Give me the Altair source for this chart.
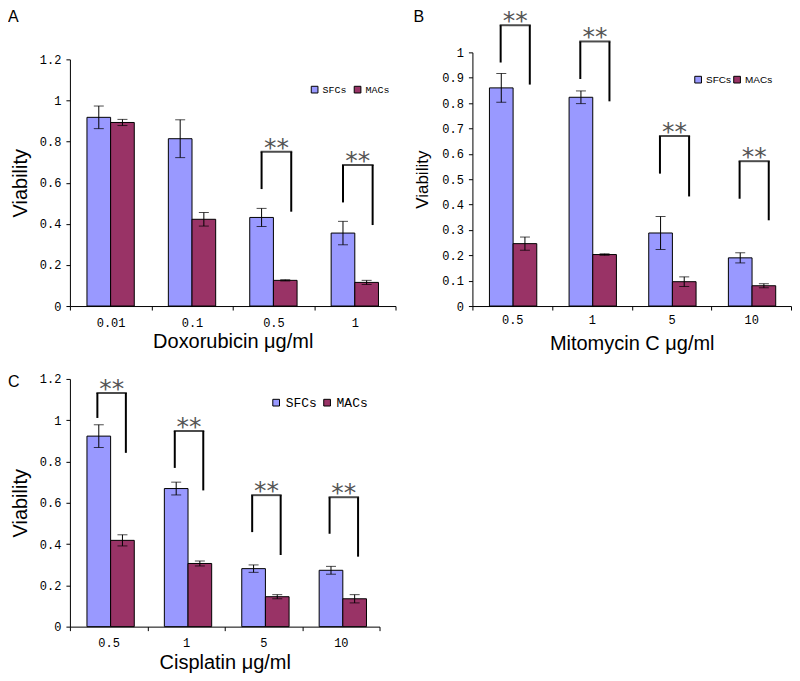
import altair as alt
import pandas as pd

cells = ["SFCs", "MACs"]
cell_colors = ["#9999FF", "#993366"]

# ---- Panel A: Doxorubicin ----
a_conc = ["0.01", "0.1", "0.5", "1"]
a_sfc = [0.918, 0.814, 0.431, 0.355]
a_sfc_sd = [0.055, 0.092, 0.044, 0.057]
a_mac = [0.893, 0.422, 0.125, 0.115]
a_mac_sd = [0.015, 0.033, 0.003, 0.010]
a_sig_conc = ["0.5", "1"]
a_sig_top = [0.751, 0.686]
a_sig_left = [0.569, 0.504]
a_sig_right = [0.459, 0.394]
a_yticks = [0, 0.2, 0.4, 0.6, 0.8, 1, 1.2]

# ---- Panel B: Mitomycin C ----
b_conc = ["0.5", "1", "5", "10"]
b_sfc = [0.860, 0.823, 0.288, 0.190]
b_sfc_sd = [0.057, 0.025, 0.065, 0.020]
b_mac = [0.246, 0.203, 0.096, 0.080]
b_mac_sd = [0.026, 0.003, 0.019, 0.008]
b_sig_conc = ["0.5", "1", "5", "10"]
b_sig_top = [1.107, 1.043, 0.670, 0.571]
b_sig_left = [0.960, 0.895, 0.522, 0.423]
b_sig_right = [0.873, 0.807, 0.432, 0.338]
b_yticks = [0, 0.1, 0.2, 0.3, 0.4, 0.5, 0.6, 0.7, 0.8, 0.9, 1]

# ---- Panel C: Cisplatin ----
c_conc = ["0.5", "1", "5", "10"]
c_sfc = [0.923, 0.669, 0.281, 0.273]
c_sfc_sd = [0.055, 0.031, 0.018, 0.019]
c_mac = [0.418, 0.306, 0.145, 0.135]
c_mac_sd = [0.027, 0.012, 0.010, 0.020]
c_sig_conc = ["0.5", "1", "5", "10"]
c_sig_top = [1.132, 0.948, 0.637, 0.627]
c_sig_left = [1.011, 0.769, 0.458, 0.450]
c_sig_right = [0.842, 0.660, 0.347, 0.339]
c_yticks = [0, 0.2, 0.4, 0.6, 0.8, 1, 1.2]

PAD_OUTER = 0.72


def panel(letter, conc, sfc, sfc_sd, mac, mac_sd, sig_conc, sig_top, sig_left,
          sig_right, yticks, ymax, xtitle, width, height, top_off, ytitle_size,
          ytitle_pad, ytitle_base, legend_x, legend_y, legend_font, legend_size,
          legend_gap, letter_pos, xlabel_pad, xtitle_pad):
    rows = []
    for i, c in enumerate(conc):
        rows.append({"conc": c, "cell": "SFCs", "v": sfc[i], "sd": sfc_sd[i]})
        rows.append({"conc": c, "cell": "MACs", "v": mac[i], "sd": mac_sd[i]})
    df = pd.DataFrame(rows)
    sig = pd.DataFrame({"conc": sig_conc, "top": sig_top, "lb": sig_left, "rb": sig_right})

    band = width / len(conc)
    step = band / (2 + 2 * PAD_OUTER)
    leg_r = 6

    x = alt.X("conc:N", scale=alt.Scale(domain=conc, paddingInner=0, paddingOuter=0),
              axis=alt.Axis(title=xtitle, labelAngle=0, tickBand="extent", tickSize=4,
                            labelFont="Liberation Mono", labelFontSize=12,
                            labelPadding=xlabel_pad,
                            titleFont="Liberation Sans", titleFontSize=20,
                            titleFontWeight="normal", titlePadding=xtitle_pad))
    xo = alt.XOffset("cell:N", scale=alt.Scale(domain=cells, paddingInner=0,
                                               paddingOuter=PAD_OUTER))
    yscale = alt.Scale(domain=[0, ymax], nice=False, zero=True, range=[height, top_off])
    y_axis = alt.Axis(title="Viability", values=yticks, tickCount=len(yticks) + 1,
                      format="~g", tickSize=4,
                      labelFont="Liberation Mono", labelFontSize=12, labelPadding=5,
                      labelOverlap=False,
                      titleFont="Liberation Sans", titleFontSize=ytitle_size,
                      titleFontWeight="normal", titlePadding=ytitle_pad,
                      titleBaseline=ytitle_base, grid=False)

    bars = alt.Chart(df).mark_bar(stroke="black", strokeWidth=1).encode(
        x=x, xOffset=xo,
        y=alt.Y("v:Q", scale=yscale, axis=y_axis),
        color=alt.Color("cell:N", scale=alt.Scale(domain=cells, range=cell_colors),
                        legend=alt.Legend(title=None, orient="none", legendX=legend_x,
                                          legendY=legend_y, direction="horizontal",
                                          symbolType="square", symbolSize=45,
                                          symbolStrokeColor="black", symbolStrokeWidth=1,
                                          labelFont=legend_font, labelFontSize=legend_size,
                                          labelOffset=3, columnPadding=legend_gap,
                                          padding=0)),
    )
    err_base = alt.Chart(df).transform_calculate(
        lo="datum.v - datum.sd", hi="datum.v + datum.sd")
    err = err_base.mark_rule(color="black", strokeWidth=1).encode(
        x=x, xOffset=xo, y=alt.Y("lo:Q", scale=yscale), y2="hi:Q")
    caps = err_base.transform_fold(["lo", "hi"], as_=["end", "val"]).mark_tick(
        orient="horizontal", size=10, thickness=1, color="black").encode(
        x=x, xOffset=xo, y=alt.Y("val:Q", scale=yscale))

    sbase = alt.Chart(sig)
    left = sbase.mark_rule(color="black", strokeWidth=2, xOffset=-step / 2).encode(
        x=x, y=alt.Y("lb:Q", scale=yscale), y2="top:Q")
    right = sbase.mark_rule(color="black", strokeWidth=2, xOffset=step / 2 + leg_r).encode(
        x=x, y=alt.Y("rb:Q", scale=yscale), y2="top:Q")
    horiz = sbase.mark_tick(orient="horizontal", color="black", thickness=2,
                            size=step + leg_r + 2, xOffset=leg_r / 2).encode(
        x=x, y=alt.Y("top:Q", scale=yscale))
    stars = sbase.mark_text(text="**", font="DejaVu Sans", fontSize=25, color="#555555",
                            baseline="alphabetic", dy=4, dx=leg_r / 2).encode(
        x=x, y=alt.Y("top:Q", scale=yscale))

    lab = alt.Chart(pd.DataFrame({"letter": [letter]})).mark_text(
        font="Liberation Sans", fontSize=16, align="left", baseline="middle",
        color="black").encode(text="letter:N", x=alt.value(letter_pos[0]),
                              y=alt.value(letter_pos[1]))

    return alt.layer(bars, err, caps, left, right, horiz, stars, lab).properties(
        width=width, height=height)


A = panel("A", a_conc, a_sfc, a_sfc_sd, a_mac, a_mac_sd, a_sig_conc, a_sig_top,
          a_sig_left, a_sig_right, a_yticks, 1.2, "Doxorubicin μg/ml", 326, 254, 7, 20,
          13, "alphabetic", 240, 32, "Liberation Mono", 10, 4, (-62, -35), 7, 4)
B = panel("B", b_conc, b_sfc, b_sfc_sd, b_mac, b_mac_sd, b_sig_conc, b_sig_top,
          b_sig_left, b_sig_right, b_yticks, 1.0, "Mitomycin C μg/ml", 319, 254, 0, 17,
          10, "bottom", 221, 22, "Liberation Sans", 10, 0, (-59, -35), 4, 9)
C = panel("C", c_conc, c_sfc, c_sfc_sd, c_mac, c_mac_sd, c_sig_conc, c_sig_top,
          c_sig_left, c_sig_right, c_yticks, 1.2, "Cisplatin μg/ml", 310, 248, 0, 20,
          13, "alphabetic", 200, 17, "Liberation Mono", 13, 3, (-62, 3), 7, 4)

top_row = alt.hconcat(A, B, spacing=17).resolve_scale(color="independent").resolve_legend(
    color="independent")
chart = alt.vconcat(top_row, C, spacing=19).resolve_scale(color="independent").resolve_legend(
    color="independent").properties(padding=0).configure_view(
    stroke=None).configure_axis(
    domainColor="black", tickColor="black", labelColor="black", titleColor="black")

chart.save("out.html", embed_options={"renderer": "svg", "actions": False})
